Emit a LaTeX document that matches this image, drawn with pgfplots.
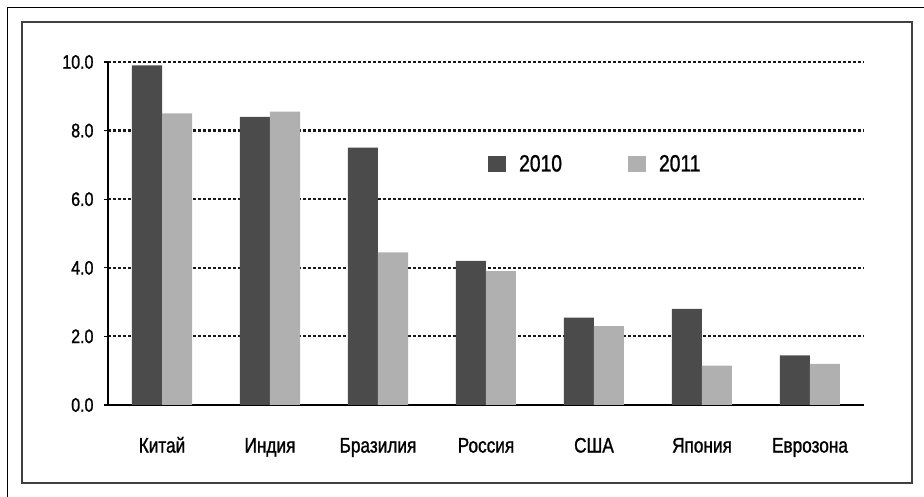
\documentclass[border=0pt]{standalone}
\usepackage{fontspec}
\setmainfont{Liberation Sans}[FakeStretch=0.82, FakeBold=1.2]
\usepackage{pgfplots}
\pgfplotsset{compat=1.18}
\definecolor{dark}{RGB}{75,75,75}
\definecolor{light}{RGB}{176,176,176}
\begin{document}
\begin{tikzpicture}[x=1pt,y=1pt]
\useasboundingbox (0,0) rectangle (924,497);
\draw[line width=1.5pt, black] (7.5,0) -- (7.5,489.5) -- (924,489.5);
\draw[line width=2pt, black!75] (22,13.7) rectangle (911.7,474.7);
\begin{axis}[
  at={(108pt,92pt)}, anchor=south west,
  scale only axis, width=756pt, height=343pt,
  ybar=0pt, bar width=30pt,
  xmin=-0.5, xmax=6.5, ymin=0, ymax=10,
  axis x line*=bottom, axis y line*=left,
  axis line style={black, line width=2pt},
  xtick={0,1,2,3,4,5,6},
  xticklabels={Китай,Индия,Бразилия,Россия,США,Япония,Еврозона},
  xtick style={draw=none},
  ytick={0,2,4,6,8,10},
  tick align=outside, major tick length=4pt,
  ytick style={black, line width=1.2pt},
  yticklabel style={font=\fontsize{19.5}{23}\selectfont, xshift=-7pt,
    /pgf/number format/fixed, /pgf/number format/fixed zerofill,
    /pgf/number format/precision=1, /pgf/number format/assume math mode=true},
  xticklabel style={font=\fontsize{21}{25}\selectfont, yshift=-25pt,
    text height=15pt, text depth=4pt},
  ymajorgrids=true,
  major grid style={black!90, line width=2.2pt, dash pattern=on 2.6pt off 2.4pt},
  legend columns=2,
  legend style={at={(0.5026,0.7026)}, anchor=west, draw=none, fill=none,
    inner sep=0pt, font=\fontsize{23.5}{28}\selectfont,
    /tikz/every odd column/.style={column sep=11pt},
    /tikz/every even column/.style={column sep=64pt}},
]
\addplot[fill=dark, draw=none,
  legend image code/.code={\fill[dark] (0pt,-8pt) rectangle (18pt,8pt);}]
  coordinates {(0,9.9) (1,8.4) (2,7.5) (3,4.2) (4,2.55) (5,2.8) (6,1.45)};
\addplot[fill=light, draw=none,
  legend image code/.code={\fill[light] (0pt,-8pt) rectangle (18pt,8pt);}]
  coordinates {(0,8.5) (1,8.55) (2,4.45) (3,3.9) (4,2.3) (5,1.15) (6,1.2)};
\legend{2010,2011}
\end{axis}
\end{tikzpicture}
\end{document}
